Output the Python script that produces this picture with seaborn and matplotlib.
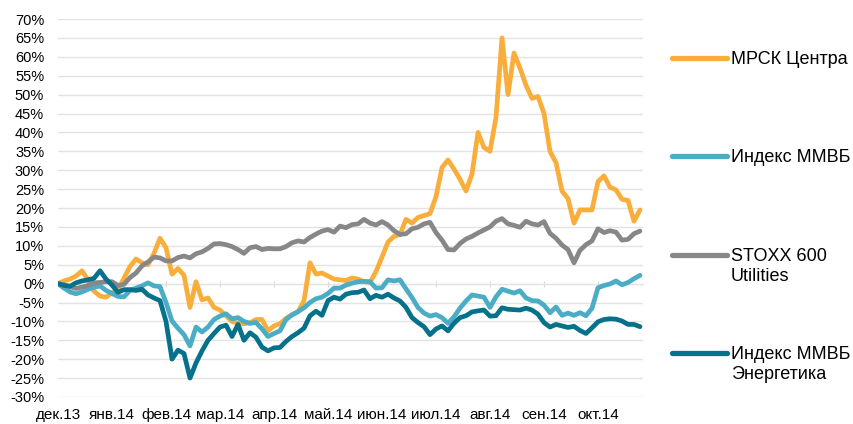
import numpy as np
import pandas as pd
import matplotlib
matplotlib.use('Agg')
import matplotlib.pyplot as plt
import seaborn as sns
from matplotlib.lines import Line2D

# Подписи месяцев по оси X (каждые 9 торговых точек)
months = ['дек.13', 'янв.14', 'фев.14', 'мар.14', 'апр.14', 'май.14',
          'июн.14', 'июл.14', 'авг.14', 'сен.14', 'окт.14']
series_names = ['МРСК Центра', 'Индекс ММВБ', 'STOXX 600\nUtilities',
                'Индекс ММВБ\nЭнергетика']

# Доходность с начала периода, %
mrsk = [0, 0.7, 1.2, 2.0, 3.4, 1.0, -2.0, -3.3, -3.6, -2.4,
        -1.8, 1.5, 4.5, 6.5, 5.5, 5.0, 8.0, 12.0, 9.5, 2.5,
        4.0, 2.2, -6.3, 0.5, -4.3, -3.8, -6.3, -7.0, -8.5, -10.0,
        -10.5, -10.6, -10.4, -9.5, -9.5, -12.5, -11.2, -10.6, -9.2, -8.2,
        -7.5, -4.5, 5.5, 2.5, 2.8, 2.0, 1.2, 1.0, 0.8, 1.5,
        1.2, 0.5, 0.3, 3.2, 7.0, 11.0, 12.5, 13.0, 17.0, 16.0,
        17.5, 18.0, 18.5, 23.0, 30.7, 32.7, 30.3, 27.6, 24.5, 29.0,
        40.0, 36.0, 35.0, 44.0, 65.0, 50.0, 61.0, 57.0, 52.5, 49.0,
        49.5, 45.0, 35.0, 32.0, 24.5, 22.5, 16.0, 19.5, 19.5, 19.5,
        27.0, 28.5, 25.5, 24.8, 22.3, 22.0, 16.5, 19.5]

micex = [0, -1.2, -2.2, -2.7, -2.2, -1.5, -1.0, -0.6, -1.8, -2.6,
         -3.4, -3.5, -1.8, -1.2, -0.6, 0.2, -0.6, -0.8, -5.0, -9.9,
         -11.8, -13.5, -16.5, -11.5, -12.8, -11.5, -9.5, -8.6, -8.0, -9.3,
         -9.0, -10.0, -10.5, -10.3, -12.0, -14.0, -13.2, -12.5, -9.5, -8.3,
         -7.4, -6.4, -5.0, -4.0, -3.6, -2.6, -1.2, -1.2, -0.4, 0.1,
         0.5, 0.6, 0.5, -1.2, -1.1, 1.0, 0.7, 1.0, -1.4, -3.7,
         -6.3, -7.8, -8.6, -8.2, -9.0, -10.5, -8.8, -6.5, -4.6, -3.0,
         -3.3, -3.6, -6.3, -3.5, -1.5, -2.0, -2.5, -1.9, -3.8, -4.5,
         -4.6, -5.7, -7.7, -6.2, -8.4, -7.8, -8.4, -7.7, -8.5, -6.5,
         -1.1, -0.5, -0.1, 0.7, -0.3, 0.3, 1.3, 2.2]

stoxx = [0, -0.3, -0.8, -1.3, -0.9, -0.5, 0.2, 0.3, 0.5, 0.5,
         -0.5, -0.2, 1.6, 2.8, 4.7, 5.7, 7.0, 6.8, 6.0, 6.0,
         6.9, 7.3, 6.8, 7.9, 8.4, 9.3, 10.5, 10.6, 10.3, 9.8,
         9.0, 8.0, 9.5, 9.8, 9.0, 9.3, 9.2, 9.2, 9.8, 10.8,
         11.3, 11.0, 12.2, 13.1, 13.9, 14.3, 13.6, 15.2, 14.8, 15.6,
         15.8, 17.0, 16.0, 15.5, 16.4, 15.5, 14.0, 13.0, 13.2, 14.5,
         14.9, 15.8, 16.2, 13.5, 11.5, 9.0, 8.9, 10.6, 11.8, 12.5,
         13.4, 14.2, 15.0, 16.5, 17.2, 15.8, 15.4, 14.9, 16.5, 15.8,
         15.5, 16.4, 13.3, 12.0, 10.2, 9.0, 5.5, 8.8, 10.3, 11.3,
         14.5, 13.5, 14.0, 13.6, 11.5, 11.7, 13.2, 13.9]

micex_energy = [0, -0.5, -0.7, 0.2, 0.7, 1.0, 1.4, 3.4, 1.2, -0.4,
                -2.3, -1.6, -1.6, -1.8, -1.5, -3.0, -3.8, -4.5, -10.0, -20.0,
                -17.6, -18.5, -25.0, -21.0, -17.8, -15.0, -13.2, -11.5, -11.0, -14.0,
                -10.8, -15.0, -13.0, -14.2, -16.8, -17.8, -17.0, -16.9, -15.3, -14.0,
                -13.0, -11.8, -8.5, -7.3, -8.4, -4.5, -3.6, -4.1, -2.8, -2.4,
                -2.3, -1.7, -4.0, -3.1, -3.6, -2.8, -3.8, -4.6, -6.3, -9.0,
                -10.3, -11.4, -13.5, -12.0, -11.2, -12.5, -10.5, -9.0, -8.5, -7.5,
                -7.2, -7.0, -8.6, -8.5, -6.4, -6.8, -6.9, -7.0, -6.5, -7.0,
                -8.1, -10.3, -11.5, -10.8, -11.2, -11.6, -11.3, -12.4, -13.2, -11.7,
                -10.1, -9.5, -9.3, -9.4, -9.9, -10.8, -10.8, -11.4]

colors = ['#F9AE3B', '#4BACC6', '#878787', '#05718A']

# Сборка длинной таблицы для seaborn
frames = []
for name, vals in zip(series_names, [mrsk, micex, stoxx, micex_energy]):
    frames.append(pd.DataFrame({'day': np.arange(len(vals)), 'value': vals, 'series': name}))
df = pd.concat(frames, ignore_index=True)

sns.set_style('white')
plt.rcParams['font.family'] = ['Liberation Sans', 'DejaVu Sans']

fig = plt.figure(figsize=(8.54, 4.24), dpi=100)
ax = fig.add_axes([58 / 854, 1 - 397 / 424, 585 / 854, 378 / 424])

sns.lineplot(data=df, x='day', y='value', hue='series', hue_order=series_names,
             palette=colors, linewidth=3.4, legend=False, ax=ax,
             solid_joinstyle='round', solid_capstyle='round')

ax.set_xlim(0, len(mrsk) - 0.5)
ax.set_ylim(-30, 70)
ax.set_yticks(range(-30, 75, 5))
ax.set_yticklabels([f'{v}%' for v in range(-30, 75, 5)])
tick_pos = [9 * i for i in range(len(months))]
ax.set_xticks(tick_pos)
ax.set_xticklabels(months)
ax.set_xlabel('')
ax.set_ylabel('')
ax.tick_params(axis='both', length=0, colors='black')
ax.tick_params(axis='y', pad=10, labelsize=10.5)
ax.tick_params(axis='x', pad=8, labelsize=11)
ax.yaxis.grid(True, color='#E3E3E3', linewidth=1)
ax.xaxis.grid(False)
ax.set_axisbelow(True)
for s in ax.spines.values():
    s.set_visible(False)

# Горизонтальная ось на уровне 0% с засечками
zero_axis = ax.secondary_xaxis(0.3)
zero_axis.set_xticks(tick_pos, labels=[''] * len(tick_pos))
zero_axis.spines['bottom'].set_color('#D9D9D9')
zero_axis.tick_params(direction='inout', length=5, color='#D9D9D9')

# Легенда справа
legend_y = [58, 156, 255, 353]
for name, c, y in zip(series_names, colors, legend_y):
    fig.add_artist(Line2D([672 / 854, 727 / 854], [1 - y / 424] * 2,
                          transform=fig.transFigure, color=c, linewidth=3.8,
                          solid_capstyle='round'))
    fig.text(731 / 854, 1 - (y - 7) / 424, name, ha='left', va='top',
             fontsize=13, color='black', linespacing=1.2)

fig.savefig('out.png', dpi=100)
plt.close(fig)
